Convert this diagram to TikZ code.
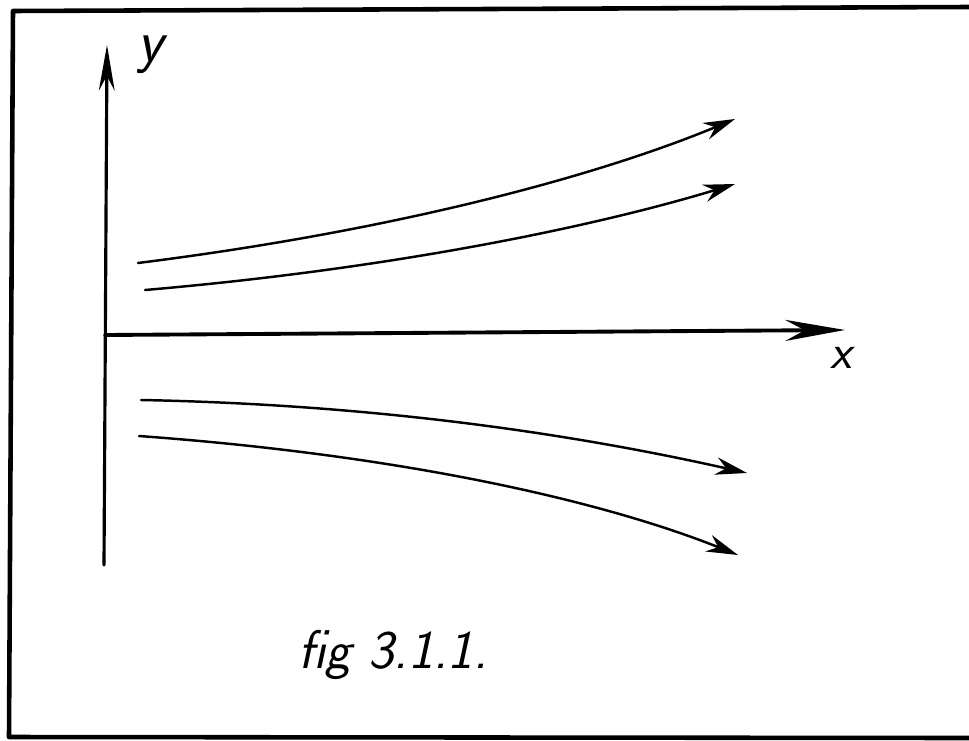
\documentclass[tikz,border=0pt]{standalone}
\usepackage{tikz}
\usetikzlibrary{arrows.meta}

\begin{document}
\begin{tikzpicture}[
    x=0.02cm, y=-0.02cm,
    >={Stealth[length=18pt,width=10pt]},
    frame/.style={line width=2.6pt, line cap=round, line join=round},
    axis/.style={->, line width=1.8pt, line cap=round},
    flow/.style={->, line width=1.4pt, line cap=round},
    lab/.style={font=\fontsize{24}{26}\selectfont\sffamily\itshape, inner sep=0pt}
]
\useasboundingbox (0,0) rectangle (969,740);

% frame (open on the right side)
\draw[frame] (969,7) -- (13,11) -- (9,737) -- (969,738);

% axes
\coordinate (origin) at (105,335);
\coordinate (ytop) at (107,45);
\coordinate (ybot) at (104,565);
\coordinate (xend) at (845,330);
\draw[axis, >={Stealth[length=26pt,width=9pt]}] (ybot) -- (ytop);
\draw[axis, >={Stealth[length=34pt,width=12pt]}, line width=2.2pt] (origin) -- (xend);

\node[lab, font=\fontsize{34}{36}\selectfont\sffamily\itshape] (ylab) at (150,55) {y};
\node[lab, font=\fontsize{28}{30}\selectfont\sffamily\itshape] (xlab) at (841,358) {x};

% streamlines
\coordinate (a0) at (138,263);
\coordinate (a1) at (735,119);
\coordinate (b0) at (145,290);
\coordinate (b1) at (735,184);
\coordinate (c0) at (141,400);
\coordinate (c1) at (747,473);
\coordinate (d0) at (139,436);
\coordinate (d1) at (738,555);

\draw[flow] (a0) .. controls (400,230) and (600,175) .. (a1);
\draw[flow] (b0) .. controls (400,268) and (600,225) .. (b1);
\draw[flow] (c0) .. controls (400,405) and (600,440) .. (c1);
\draw[flow] (d0) .. controls (400,455) and (600,500) .. (d1);

% caption
\node[lab, font=\fontsize{31}{33}\selectfont\sffamily\itshape] (caption) at (393,655) {fig 3.1.1.};

\end{tikzpicture}
\end{document}
